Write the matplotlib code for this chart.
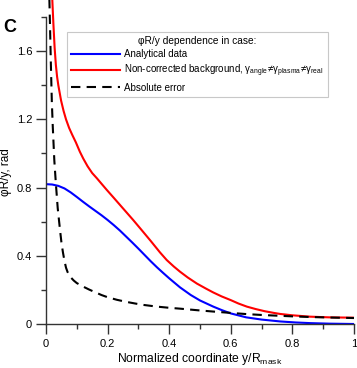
import matplotlib
matplotlib.use("Agg")
import matplotlib.pyplot as plt

plt.rcParams['font.family'] = ['Liberation Sans', 'DejaVu Sans']
plt.rcParams['mathtext.fontset'] = 'custom'
plt.rcParams['mathtext.rm'] = 'Liberation Sans'
plt.rcParams['mathtext.it'] = 'Liberation Sans'
plt.rcParams['mathtext.bf'] = 'Liberation Sans:bold'

# Analytical data (blue)
x_analytical = [0.0, 0.02, 0.04, 0.06, 0.08, 0.1, 0.12, 0.14, 0.16, 0.18, 0.2, 0.22, 0.24,
                0.26, 0.28, 0.3, 0.32, 0.34, 0.36, 0.38, 0.4, 0.435, 0.47, 0.5, 0.543, 0.57,
                0.6, 0.65, 0.7, 0.76, 0.81, 0.86, 0.92, 1.0]
y_analytical = [0.82, 0.818, 0.81, 0.795, 0.772, 0.745, 0.717, 0.69, 0.664, 0.638, 0.61,
                0.58, 0.548, 0.513, 0.478, 0.442, 0.405, 0.368, 0.333, 0.3, 0.268, 0.215,
                0.17, 0.138, 0.102, 0.082, 0.062, 0.039, 0.026, 0.015, 0.009, 0.005, 0.002, 0.0]

# Non-corrected background (red)
x_noncorr = [0.015, 0.018, 0.02, 0.024, 0.028, 0.032, 0.036, 0.04, 0.049, 0.057, 0.065,
             0.075, 0.085, 0.097, 0.11, 0.121, 0.135, 0.15, 0.165, 0.18, 0.197, 0.22, 0.25,
             0.283, 0.31, 0.34, 0.37, 0.392, 0.415, 0.435, 0.46, 0.49, 0.52, 0.543, 0.57,
             0.6, 0.625, 0.652, 0.68, 0.71, 0.74, 0.76, 0.8, 0.857, 0.92, 1.0]
y_noncorr = [2.3, 2.05, 1.92, 1.76, 1.62, 1.52, 1.45, 1.4, 1.31, 1.25, 1.2,
             1.15, 1.11, 1.065, 1.01, 0.97, 0.925, 0.885, 0.855, 0.823, 0.787, 0.74, 0.678,
             0.61, 0.552, 0.487, 0.42, 0.375, 0.337, 0.307, 0.273, 0.237, 0.207, 0.185, 0.162,
             0.14, 0.12, 0.102, 0.088, 0.075, 0.065, 0.059, 0.051, 0.043, 0.039, 0.037]

# Absolute error (dashed)
x_error = [0.009, 0.011, 0.013, 0.016, 0.019, 0.022, 0.027, 0.032, 0.038, 0.045, 0.05,
           0.055, 0.06, 0.065, 0.07, 0.078, 0.09, 0.1, 0.121, 0.14, 0.16, 0.18, 0.2, 0.23,
           0.26, 0.29, 0.316, 0.36, 0.4, 0.435, 0.49, 0.543, 0.6, 0.652, 0.7, 0.76, 0.81,
           0.857, 0.92, 1.0]
y_error = [2.4, 1.9, 1.75, 1.51, 1.3, 1.157, 0.96, 0.825, 0.68, 0.56, 0.48,
           0.42, 0.37, 0.33, 0.305, 0.278, 0.255, 0.24, 0.219, 0.202, 0.186, 0.17, 0.157, 0.142,
           0.13, 0.12, 0.112, 0.102, 0.095, 0.09, 0.081, 0.073, 0.065, 0.058, 0.053, 0.048, 0.044,
           0.041, 0.038, 0.035]

x_ticks = [0, 0.2, 0.4, 0.6, 0.8, 1.0]
x_ticklabels = ['0', '0.2', '0.4', '0.6', '0.8', '1']
x_minor = [0.1, 0.3, 0.5, 0.7, 0.9]
y_ticks = [0, 0.4, 0.8, 1.2, 1.6]
y_ticklabels = ['0', '0.4', '0.8', '1.2', '1.6']
y_minor = [0.2, 0.6, 1.0, 1.4, 1.8]

legend_title = "\u03c6R/y dependence in case:"
labels = ["Analytical data",
          r"Non-corrected background, $\gamma_{\mathrm{angle}}\!\neq\!\gamma_{\mathrm{plasma}}\!\neq\!\gamma_{\mathrm{real}}$",
          "Absolute error"]

W, H = 357, 368
fig = plt.figure(figsize=(W / 100, H / 100), dpi=100)
ax = fig.add_axes([46 / W, 44 / H, 308 / W, 324 / H])

ax.plot(x_analytical, y_analytical, color='#0000ff', lw=1.5, label=labels[0])
ax.plot(x_noncorr, y_noncorr, color='#ff0000', lw=1.5, label=labels[1])
ax.plot(x_error, y_error, color='black', lw=1.5, ls=(0, (4.5, 3)), label=labels[2])

ax.set_xlim(0, 1)
ax.set_ylim(0, 1.9)
ax.spines['top'].set_visible(False)
ax.spines['right'].set_visible(False)
ax.spines['left'].set_bounds(0, 1.8)
for s in ['left', 'bottom']:
    ax.spines[s].set_color('#333333')
    ax.spines[s].set_linewidth(1.0)

ax.set_xticks(x_ticks)
ax.set_xticklabels(x_ticklabels)
ax.set_xticks(x_minor, minor=True)
ax.set_yticks(y_ticks)
ax.set_yticklabels(y_ticklabels)
ax.set_yticks(y_minor, minor=True)
ax.tick_params(which='major', direction='out', length=7, width=1.0, color='#333333',
               labelsize=8)
ax.tick_params(axis='x', which='major', pad=4)
ax.tick_params(axis='y', which='major', pad=3)
ax.tick_params(which='minor', direction='out', length=3.5, width=1.0, color='#333333')

ax.set_xlabel(r"Normalized coordinate y/R$_{\mathrm{mask}}$", fontsize=8.7, labelpad=1)
ax.set_ylabel("\u03c6R/y, rad", fontsize=8.5)
ax.yaxis.set_label_coords(-0.112, 0.47)

fig.text(3 / W, 1 - 28 / H, "C", fontsize=13, fontweight='bold', va='center', ha='left')

leg = ax.legend(loc='upper left', bbox_to_anchor=(67 / W, 1 - 32 / H),
                bbox_transform=fig.transFigure, title=legend_title, fontsize=7,
                title_fontsize=7.3, frameon=True, fancybox=False, framealpha=1,
                edgecolor='#c8c8c8', handlelength=5.1, handletextpad=0.4,
                labelspacing=0.36, borderpad=0.4, borderaxespad=0)
leg.get_frame().set_linewidth(0.8)

fig.savefig("out.png", dpi=100)
